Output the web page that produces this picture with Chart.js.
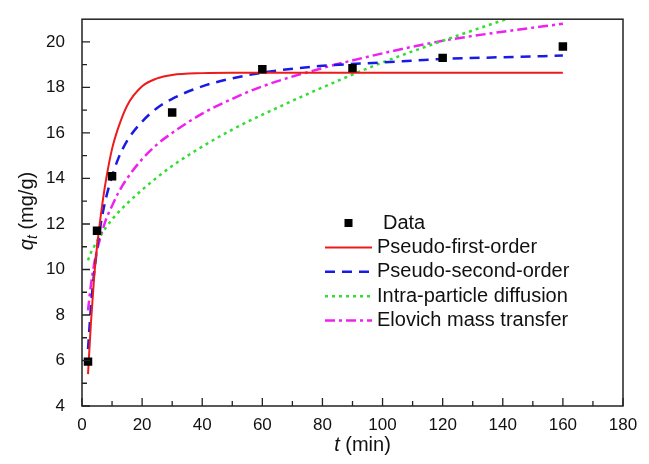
<!DOCTYPE html>
<html>
<head>
<meta charset="utf-8">
<script src="https://cdn.jsdelivr.net/npm/chart.js@4.4.1/dist/chart.umd.min.js"></script>
<style>
  html, body { margin: 0; padding: 0; background: #fff; }
  #kinetics { display: block; }
</style>
</head>
<body>
<canvas id="kinetics" width="649" height="464"></canvas>
<script>
// measured points
const dataT = [2, 5, 10, 30, 60, 90, 120, 160];
const dataQ = [5.95, 11.7, 14.1, 16.9, 18.8, 18.85, 19.3, 19.8];

// fitted curves
const fitT = [2, 3, 4, 5, 6, 7, 8, 10, 12, 15, 20, 25, 30, 40, 50, 60, 80, 100, 120, 140, 160];
const firstOrderQ = [5.4, 7.7, 9.6, 11.0, 12.1, 13.1, 13.95, 15.3, 16.2, 17.2, 18.05, 18.4, 18.55, 18.63, 18.65, 18.65, 18.65, 18.65, 18.65, 18.65, 18.65];
const secondOrderQ = [6.5, 8.4, 9.8, 10.9, 11.8, 12.55, 13.15, 14.1, 14.85, 15.65, 16.5, 17.1, 17.5, 18.05, 18.4, 18.65, 18.95, 19.1, 19.25, 19.33, 19.4];
const diffusionQ = [10.4, 10.75, 11.0, 11.25, 11.45, 11.65, 11.85, 12.2, 12.5, 12.9, 13.5, 14.05, 14.55, 15.4, 16.15, 16.8, 18.0, 19.1, 20.05, 20.95, 21.8];
const elovichQ = [8.2, 9.35, 10.2, 10.85, 11.35, 11.8, 12.2, 12.8, 13.35, 14.0, 14.85, 15.5, 16.0, 16.85, 17.5, 18.05, 18.85, 19.5, 20.05, 20.45, 20.8];

const seriesNames = ['Data', 'Pseudo-first-order', 'Pseudo-second-order', 'Intra-particle diffusion', 'Elovich mass transfer'];

// axis ticks
const xMajor = [0, 20, 40, 60, 80, 100, 120, 140, 160, 180];
const xMinor = [10, 30, 50, 70, 90, 110, 130, 150, 170];
const yMajor = [4, 6, 8, 10, 12, 14, 16, 18, 20];
const yMinor = [5, 7, 9, 11, 13, 15, 17, 19];

let toPoints = (xs, ys) => xs.map((x, i) => ({ x: x, y: ys[i] }));
let fontFamily = '"Liberation Sans", Arial, sans-serif';

let lineSet = (label, ys, color, width, dash) => ({
  label: label,
  data: toPoints(fitT, ys),
  showLine: true,
  borderColor: color,
  backgroundColor: color,
  borderWidth: width,
  borderDash: dash,
  pointRadius: 0,
  cubicInterpolationMode: 'monotone',
  fill: false
});

// inward ticks, full frame, axis titles, legend
let framePlugin = {
  id: 'frame',
  afterDraw(chart) {
    let ctx = chart.ctx;
    let a = chart.chartArea;
    let xs = chart.scales.x;
    let ys = chart.scales.y;
    ctx.save();
    ctx.strokeStyle = '#222';
    ctx.lineWidth = 1.5;
    ctx.strokeRect(a.left, a.top, a.right - a.left, a.bottom - a.top);

    ctx.lineWidth = 1.3;
    ctx.beginPath();
    xMajor.forEach(v => { let p = xs.getPixelForValue(v); ctx.moveTo(p, a.bottom); ctx.lineTo(p, a.bottom - 8); });
    xMinor.forEach(v => { let p = xs.getPixelForValue(v); ctx.moveTo(p, a.bottom); ctx.lineTo(p, a.bottom - 5); });
    yMajor.forEach(v => { let p = ys.getPixelForValue(v); ctx.moveTo(a.left, p); ctx.lineTo(a.left + 8, p); });
    yMinor.forEach(v => { let p = ys.getPixelForValue(v); ctx.moveTo(a.left, p); ctx.lineTo(a.left + 5, p); });
    ctx.stroke();

    // x title: t (min)
    ctx.fillStyle = '#111';
    ctx.textBaseline = 'middle';
    ctx.font = 'italic 20px ' + fontFamily;
    let tW = ctx.measureText('t').width;
    ctx.font = '20px ' + fontFamily;
    let restW = ctx.measureText(' (min)').width;
    let cx = (a.left + a.right) / 2 + 10;
    let x0 = cx - (tW + restW) / 2;
    ctx.textAlign = 'left';
    ctx.font = 'italic 20px ' + fontFamily;
    ctx.fillText('t', x0, 445);
    ctx.font = '20px ' + fontFamily;
    ctx.fillText(' (min)', x0 + tW, 445);

    // y title: q_t (mg/g)
    ctx.save();
    ctx.translate(27, 211);
    ctx.rotate(-Math.PI / 2);
    ctx.font = 'italic 20px ' + fontFamily;
    let qW = ctx.measureText('q').width;
    ctx.font = 'italic 14px ' + fontFamily;
    let sW = ctx.measureText('t').width;
    ctx.font = '20px ' + fontFamily;
    let uW = ctx.measureText(' (mg/g)').width;
    let y0 = -(qW + sW + uW) / 2;
    ctx.font = 'italic 20px ' + fontFamily;
    ctx.fillText('q', y0, 0);
    ctx.font = 'italic 14px ' + fontFamily;
    ctx.fillText('t', y0 + qW, 6);
    ctx.font = '20px ' + fontFamily;
    ctx.fillText(' (mg/g)', y0 + qW + sW, 0);
    ctx.restore();

    // legend
    let ds = chart.data.datasets;
    let lx = 325, lw = 47, rowY = 223, step = 24.4;
    ctx.font = '20px ' + fontFamily;
    ctx.textBaseline = 'middle';
    ds.forEach((d, i) => {
      let y = rowY + i * step;
      if (i === 0) {
        ctx.fillStyle = d.backgroundColor;
        ctx.fillRect(lx + lw / 2 - 4, y - 4, 8, 8);
        ctx.fillStyle = '#111';
        ctx.fillText(d.label, 383, y);
      } else {
        ctx.strokeStyle = d.borderColor;
        ctx.lineWidth = d.borderWidth;
        ctx.setLineDash(d.borderDash || []);
        ctx.beginPath();
        ctx.moveTo(lx, y);
        ctx.lineTo(lx + lw, y);
        ctx.stroke();
        ctx.setLineDash([]);
        ctx.fillStyle = '#111';
        ctx.fillText(d.label, 377, y);
      }
    });
    ctx.restore();
  }
};

let whiteBg = {
  id: 'whiteBg',
  beforeDraw(chart) {
    let ctx = chart.ctx;
    ctx.save();
    ctx.fillStyle = '#fff';
    ctx.fillRect(0, 0, chart.width, chart.height);
    ctx.restore();
  }
};

let config = {
  type: 'scatter',
  data: {
    datasets: [
      {
        label: seriesNames[0],
        data: toPoints(dataT, dataQ),
        pointStyle: 'rect',
        pointRadius: 6,
        pointBorderWidth: 0,
        backgroundColor: '#000',
        borderColor: '#000',
        showLine: false
      },
      lineSet(seriesNames[1], firstOrderQ, '#ee1b1b', 2, []),
      lineSet(seriesNames[2], secondOrderQ, '#1a1ae6', 2.5, [10, 7]),
      lineSet(seriesNames[3], diffusionQ, '#33dd33', 2.5, [3, 4]),
      lineSet(seriesNames[4], elovichQ, '#ee22ee', 2.5, [10, 4, 3, 4])
    ]
  },
  options: {
    responsive: false,
    animation: false,
    layout: { padding: { left: 0, right: 26, top: 9, bottom: 0 } },
    scales: {
      x: {
        type: 'linear',
        min: 0,
        max: 180,
        afterFit: s => { s.height = 58; },
        afterBuildTicks: s => { s.ticks = xMajor.map(v => ({ value: v })); },
        grid: { display: false },
        border: { display: false },
        ticks: { color: '#111', padding: 1, maxRotation: 0, font: { family: fontFamily, size: 17 } }
      },
      y: {
        type: 'linear',
        min: 4,
        max: 21,
        afterFit: s => { s.width = 82; },
        afterBuildTicks: s => { s.ticks = yMajor.map(v => ({ value: v })); },
        grid: { display: false },
        border: { display: false },
        ticks: { color: '#111', padding: 9, font: { family: fontFamily, size: 17 } }
      }
    },
    plugins: {
      legend: { display: false },
      tooltip: { enabled: false }
    }
  },
  plugins: [whiteBg, framePlugin]
};

let chart = new Chart(document.querySelector('#kinetics').getContext('2d'), config);
</script>
</body>
</html>
